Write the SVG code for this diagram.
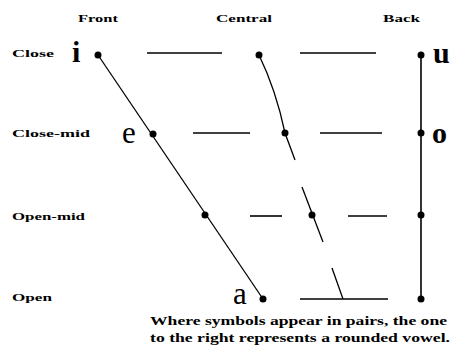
<svg xmlns="http://www.w3.org/2000/svg" width="452" height="350" viewBox="0 0 452 350">
<style>
.lbl{font-family:"Liberation Serif",serif;font-weight:bold;font-size:11px;fill:#000}
.sym{font-family:"Liberation Serif",serif;font-weight:bold;font-size:30px;fill:#000}
.sym2{font-family:"Liberation Serif",serif;font-size:31px;fill:#000}
.note{font-family:"Liberation Serif",serif;font-weight:bold;font-size:12px;fill:#000}
.dot{fill:#000}
.h{stroke:#000;stroke-width:1.6;fill:none}
.d{stroke:#000;stroke-width:1.3;fill:none}
</style>
<rect width="452" height="350" fill="#fff"/>
<g id="headers">
<text class="lbl" x="78" y="22" textLength="40" lengthAdjust="spacingAndGlyphs">Front</text>
<text class="lbl" x="216" y="22" textLength="56" lengthAdjust="spacingAndGlyphs">Central</text>
<text class="lbl" x="383" y="22" textLength="37" lengthAdjust="spacingAndGlyphs">Back</text>
</g>
<g id="rows">
<text class="lbl" x="12" y="57" textLength="42" lengthAdjust="spacingAndGlyphs">Close</text>
<text class="lbl" x="12" y="137" textLength="78" lengthAdjust="spacingAndGlyphs">Close-mid</text>
<text class="lbl" x="12" y="220" textLength="73" lengthAdjust="spacingAndGlyphs">Open-mid</text>
<text class="lbl" x="12" y="301" textLength="40" lengthAdjust="spacingAndGlyphs">Open</text>
</g>
<g id="connectors">
<line class="h" x1="147" y1="53" x2="222" y2="53"/>
<line class="h" x1="300" y1="53" x2="376" y2="53"/>
<line class="h" x1="193" y1="133" x2="250" y2="133"/>
<line class="h" x1="320" y1="133" x2="382" y2="133"/>
<line class="h" x1="250" y1="216" x2="282" y2="216"/>
<line class="h" x1="348" y1="216" x2="387" y2="216"/>
<line class="h" x1="300" y1="299" x2="388" y2="299"/>
<line class="h" x1="421" y1="55" x2="421" y2="299"/>
<line class="d" x1="98" y1="55" x2="263" y2="299"/>
<path class="d" d="M259,55 Q276,90 285,133 L295,160"/>
<line class="d" x1="302" y1="187" x2="323" y2="242"/>
<line class="d" x1="332" y1="268" x2="343" y2="299"/>
</g>
<g id="node-i"><text class="sym" x="72" y="62">i</text><circle class="dot" cx="98" cy="55" r="3.5"/></g>
<g id="node-close-central"><circle class="dot" cx="259" cy="55" r="3.5"/></g>
<g id="node-u"><circle class="dot" cx="421" cy="55" r="3.5"/><text class="sym" x="433" y="63">u</text></g>
<g id="node-e"><text class="sym2" x="122" y="143">e</text><circle class="dot" cx="153" cy="134" r="3.5"/></g>
<g id="node-closemid-central"><circle class="dot" cx="285" cy="133" r="3.5"/></g>
<g id="node-o"><circle class="dot" cx="421" cy="133" r="3.5"/><text class="sym" x="432" y="143">o</text></g>
<g id="node-openmid-front"><circle class="dot" cx="205" cy="215" r="3.5"/></g>
<g id="node-openmid-central"><circle class="dot" cx="312" cy="215" r="3.5"/></g>
<g id="node-openmid-back"><circle class="dot" cx="421" cy="215" r="3.5"/></g>
<g id="node-a"><text class="sym2" x="233" y="304">a</text><circle class="dot" cx="263" cy="299" r="3.5"/></g>
<g id="node-open-back"><circle class="dot" cx="421" cy="299" r="3.5"/></g>
<g id="note">
<text class="note" x="150" y="325" textLength="297" lengthAdjust="spacingAndGlyphs">Where symbols appear in pairs, the one</text>
<text class="note" x="150" y="342" textLength="300" lengthAdjust="spacingAndGlyphs">to the right represents a rounded vowel.</text>
</g>
</svg>
